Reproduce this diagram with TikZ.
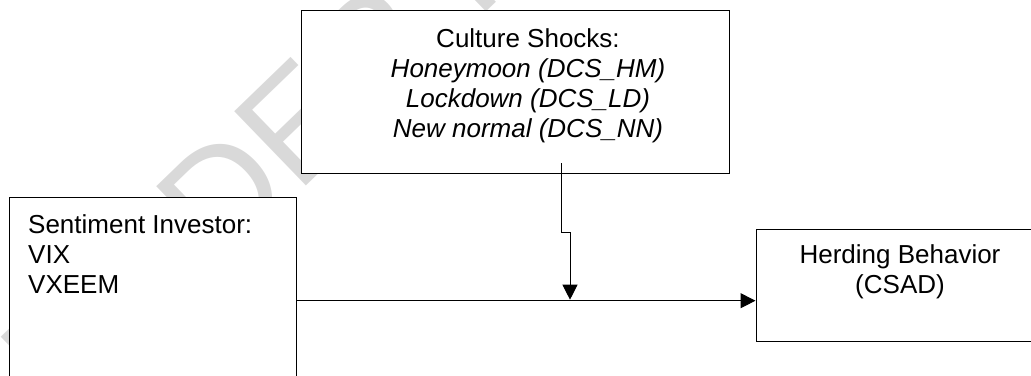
\documentclass[tikz,border=0pt]{standalone}
\usepackage{fontspec}
\setmainfont{Liberation Sans}
\usetikzlibrary{arrows.meta}
\begin{document}
\begin{tikzpicture}[x=1pt,y=-1pt,
  box/.style={draw=black, line width=1pt, fill=white, inner sep=0pt},
  txt/.style={font=\fontsize{26}{30}\selectfont, inner sep=0pt},
  link/.style={draw=black, line width=1pt},
  tip/.style={-{Triangle[length=15pt,width=15pt]}},
  wmark/.style={font=\fontsize{150}{150}\selectfont, text=black!15,
                rotate=44, anchor=base west, inner sep=0pt}]
\useasboundingbox (0,0) rectangle (1031,375);
\clip (0,0) rectangle (1031,375);

% faint background watermark
\node[wmark] (wm) at (64,420) {UNDER REVIEW};

% boxes
\node[box, minimum width=428pt, minimum height=163pt] (shock) at (515,91.5) {};
\node[box, minimum width=287pt, minimum height=240pt] (sent) at (152.5,317) {};
\node[box, minimum width=290pt, minimum height=112pt] (herd) at (901,285) {};

% box texts (anchored at the baseline of their last line)
\node[txt, align=center, anchor=base] (shocktxt) at (528,137)
  {Culture Shocks:\\{\itshape Honeymoon (DCS\_HM)}\\{\itshape Lockdown (DCS\_LD)}\\{\itshape New normal (DCS\_NN)}};
\node[txt, align=left, anchor=base west] (senttxt) at (28,293)
  {Sentiment Investor:\\VIX\\VXEEM};
\node[txt, align=center, anchor=base] (herdtxt) at (900,293)
  {Herding Behavior\\(CSAD)};

% connectors
\coordinate (hy) at (0,300.7);
\draw[link, tip] (sent.east |- hy) -- (herd.west |- hy);
\coordinate (vstart) at (561,163);
\coordinate (vjog) at (561,232);
\draw[link, tip, shorten >=1pt] (vstart) -- (vjog) -- ++(9,0) coordinate (vjog2) -- (vjog2 |- hy);
\end{tikzpicture}
\end{document}
